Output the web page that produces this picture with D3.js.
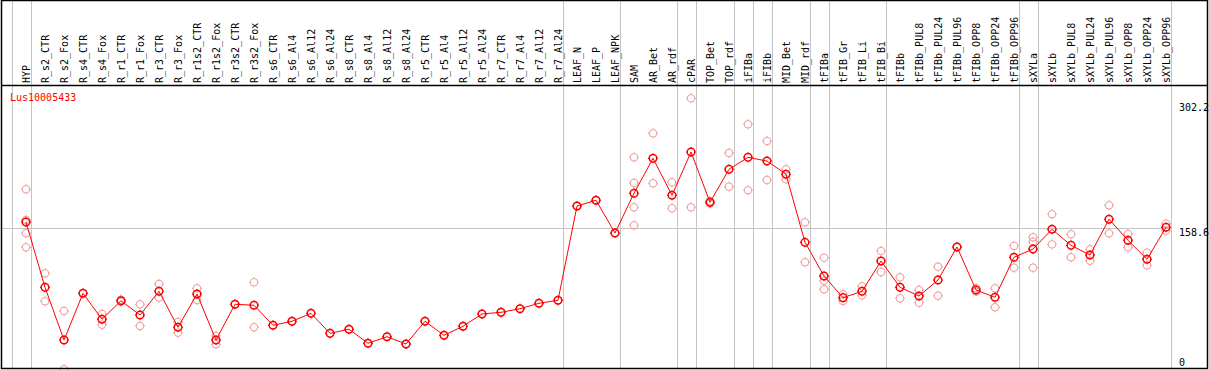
<!DOCTYPE html>
<html>
<head>
<meta charset="utf-8">
<script src="https://cdn.jsdelivr.net/npm/d3@7"></script>
<style>
  html, body { margin: 0; padding: 0; background: #fff; }
  svg { display: block; }
  text { font-family: "DejaVu Sans Mono", monospace; font-size: 10px; }
</style>
</head>
<body>
<svg id="chart" width="1209" height="370"></svg>
<script>
const categories = ["HYP","R_s2_CTR","R_s2_Fox","R_s4_CTR","R_s4_Fox","R_r1_CTR","R_r1_Fox","R_r3_CTR","R_r3_Fox","R_r1s2_CTR","R_r1s2_Fox","R_r3s2_CTR","R_r3s2_Fox","R_s6_CTR","R_s6_Al4","R_s6_Al12","R_s6_Al24","R_s8_CTR","R_s8_Al4","R_s8_Al12","R_s8_Al24","R_r5_CTR","R_r5_Al4","R_r5_Al12","R_r5_Al24","R_r7_CTR","R_r7_Al4","R_r7_Al12","R_r7_Al24","LEAF_N","LEAF_P","LEAF_NPK","SAM","AR_Bet","AR_rdf","cPAR","TOP_Bet","TOP_rdf","iFIBa","iFIBb","MID_Bet","MID_rdf","tFIBa","tFIB_Gr","tFIB_Li","tFIB_Bi","tFIBb","tFIBb_PUL8","tFIBb_PUL24","tFIBb_PUL96","tFIBb_OPP8","tFIBb_OPP24","tFIBb_OPP96","sXYLa","sXYLb","sXYLb_PUL8","sXYLb_PUL24","sXYLb_PUL96","sXYLb_OPP8","sXYLb_OPP24","sXYLb_OPP96"];

const meanValues = [165.6,93.4,35.2,86.8,58.1,78.6,62.8,89.0,49.3,86.0,35.2,74.7,73.6,51.5,55.9,64.7,42.6,47.1,31.6,38.9,30.8,55.9,40.4,50.4,64.0,65.8,69.8,75.8,79.1,183.2,189.6,153.4,197.3,235.9,195.1,242.9,187.3,223.8,237.0,232.9,218.3,143.1,105.9,82.0,89.0,122.5,93.4,83.8,101.5,138.0,90.5,82.4,126.6,135.7,157.5,139.8,129.1,168.6,145.4,124.4,159.7];

const replicateValues = [
  [201.7,167.8,153.1,137.6],[108.9,78.0],[67.3,2.9],[86.8],[64.0,52.1],[77.5,79.7],[74.7,50.7],[97.1,82.0],[55.1,43.3],[92.3,79.4],[39.7,30.5],[74.7],[99.0,49.3],
  [51.5],[55.9],[64.7],[42.6],[47.1],[31.6],[38.9],[30.8],[55.9],[40.4],[50.4],[64.0],[65.8],[69.8],[75.8],[79.1],
  [183.2],[189.6],[153.4],
  [237.0,208.6,181.8,161.9],[263.5,208.3],[209.4,180.7],[302.2,181.8],[186.0,188.6],[241.8,204.6],[273.5,200.6],[255.0,212.0],[223.8,212.7],[165.2,121.1],
  [126.1,100.7,91.2],[78.3,85.7],[94.5,84.6],[133.5,110.3],[104.5,81.3],[90.5,76.4],[116.2,84.2],[138.0],[88.6,92.4],[92.3,71.4],[139.1,115.1],
  [148.7,143.8,115.1],[174.1,140.9],[152.0,126.6],[135.4,122.8],[184.0,153.1],[152.3,137.6],[131.7,117.7],[163.7,156.0]
];

// separators are drawn after these categories (plus one before the first)
const groupEnds = ["HYP","R_r7_Al24","LEAF_NPK","AR_rdf","cPAR","TOP_rdf","iFIBa","iFIBb","MID_rdf","tFIBa","tFIB_Bi","tFIBb_OPP96","sXYLa","sXYLb_OPP96"];
const yTicks = [302.2, 158.6, 0];
const seriesName = "Lus10005433";

const svg = d3.select("#chart");
const headerY = 85.5, bottomY = 368.5, leftX = 1.5, rightX = 1207.5;

const x = d3.scalePoint().domain(categories).range([26, 1166]);
const y = d3.scaleLinear().domain([0, 302.2]).range([371.9, 98.3]);
const step = x.step();

// vertical group separators
const sepX = [x(categories[0]) - step + 4.5].concat(groupEnds.map(c => x(c) + 4.5));
svg.append("g").selectAll("line").data(sepX).join("line")
  .attr("x1", d => Math.round(d) + 0.5).attr("x2", d => Math.round(d) + 0.5)
  .attr("y1", 0).attr("y2", bottomY)
  .attr("stroke", "#c4c4c4").attr("stroke-width", 1);

// horizontal gridline at middle tick
const plotRight = Math.round(x(categories[categories.length - 1]) + 4.5) + 0.5;
svg.append("g").selectAll("line").data([yTicks[1]]).join("line")
  .attr("x1", leftX).attr("x2", plotRight)
  .attr("y1", d => Math.round(y(d)) + 0.5).attr("y2", d => Math.round(y(d)) + 0.5)
  .attr("stroke", "#c4c4c4").attr("stroke-width", 1);

// category labels (rotated)
svg.append("g").selectAll("text").data(categories).join("text")
  .attr("transform", d => `translate(${x(d) + 4},83) rotate(-90)`)
  .attr("text-anchor", "start")
  .attr("fill", "#000")
  .text(d => d);

// y tick labels
svg.append("g").selectAll("text").data(yTicks).join("text")
  .attr("x", 1179)
  .attr("y", d => Math.min(Math.max(y(d) + 8, 111), 365.5))
  .attr("fill", "#000")
  .text(d => d);

// series title
svg.append("text").attr("x", 10).attr("y", 101).attr("fill", "#ff0000").text(seriesName);

function marker(g, r, color, sw) {
  g.append("circle").attr("r", r).attr("fill", "none").attr("stroke", color).attr("stroke-width", sw);
  const t = [[0, -r - 1.2, 0, -r], [0, r, 0, r + 1.2], [-r - 1.2, 0, -r, 0], [r, 0, r + 1.2, 0]];
  t.forEach(a => g.append("line").attr("x1", a[0]).attr("y1", a[1]).attr("x2", a[2]).attr("y2", a[3])
    .attr("stroke", color).attr("stroke-width", 1));
}

// replicate markers
const reps = [];
categories.forEach((c, i) => replicateValues[i].forEach(v => reps.push({c, v})));
svg.append("g").selectAll("g").data(reps).join("g")
  .attr("transform", d => `translate(${x(d.c)},${y(d.v)})`)
  .each(function() { marker(d3.select(this), 3.8, "#f09a9a", 1); });

// mean line
const meanData = categories.map((c, i) => ({c, v: meanValues[i]}));
svg.append("path").datum(meanData)
  .attr("d", d3.line().x(d => x(d.c)).y(d => y(d.v)))
  .attr("fill", "none").attr("stroke", "#ff0000").attr("stroke-width", 1);

svg.append("g").selectAll("g").data(meanData).join("g")
  .attr("transform", d => `translate(${x(d.c)},${y(d.v)})`)
  .each(function() { marker(d3.select(this), 3.8, "#ff0000", 1.5); });

// frame and header line
svg.append("rect").attr("x", leftX).attr("y", 0.5).attr("width", rightX - leftX).attr("height", bottomY - 0.5)
  .attr("fill", "none").attr("stroke", "#000").attr("stroke-width", 1.5);
svg.append("line").attr("x1", leftX).attr("x2", rightX).attr("y1", headerY).attr("y2", headerY)
  .attr("stroke", "#000").attr("stroke-width", 1.5);
</script>
</body>
</html>
